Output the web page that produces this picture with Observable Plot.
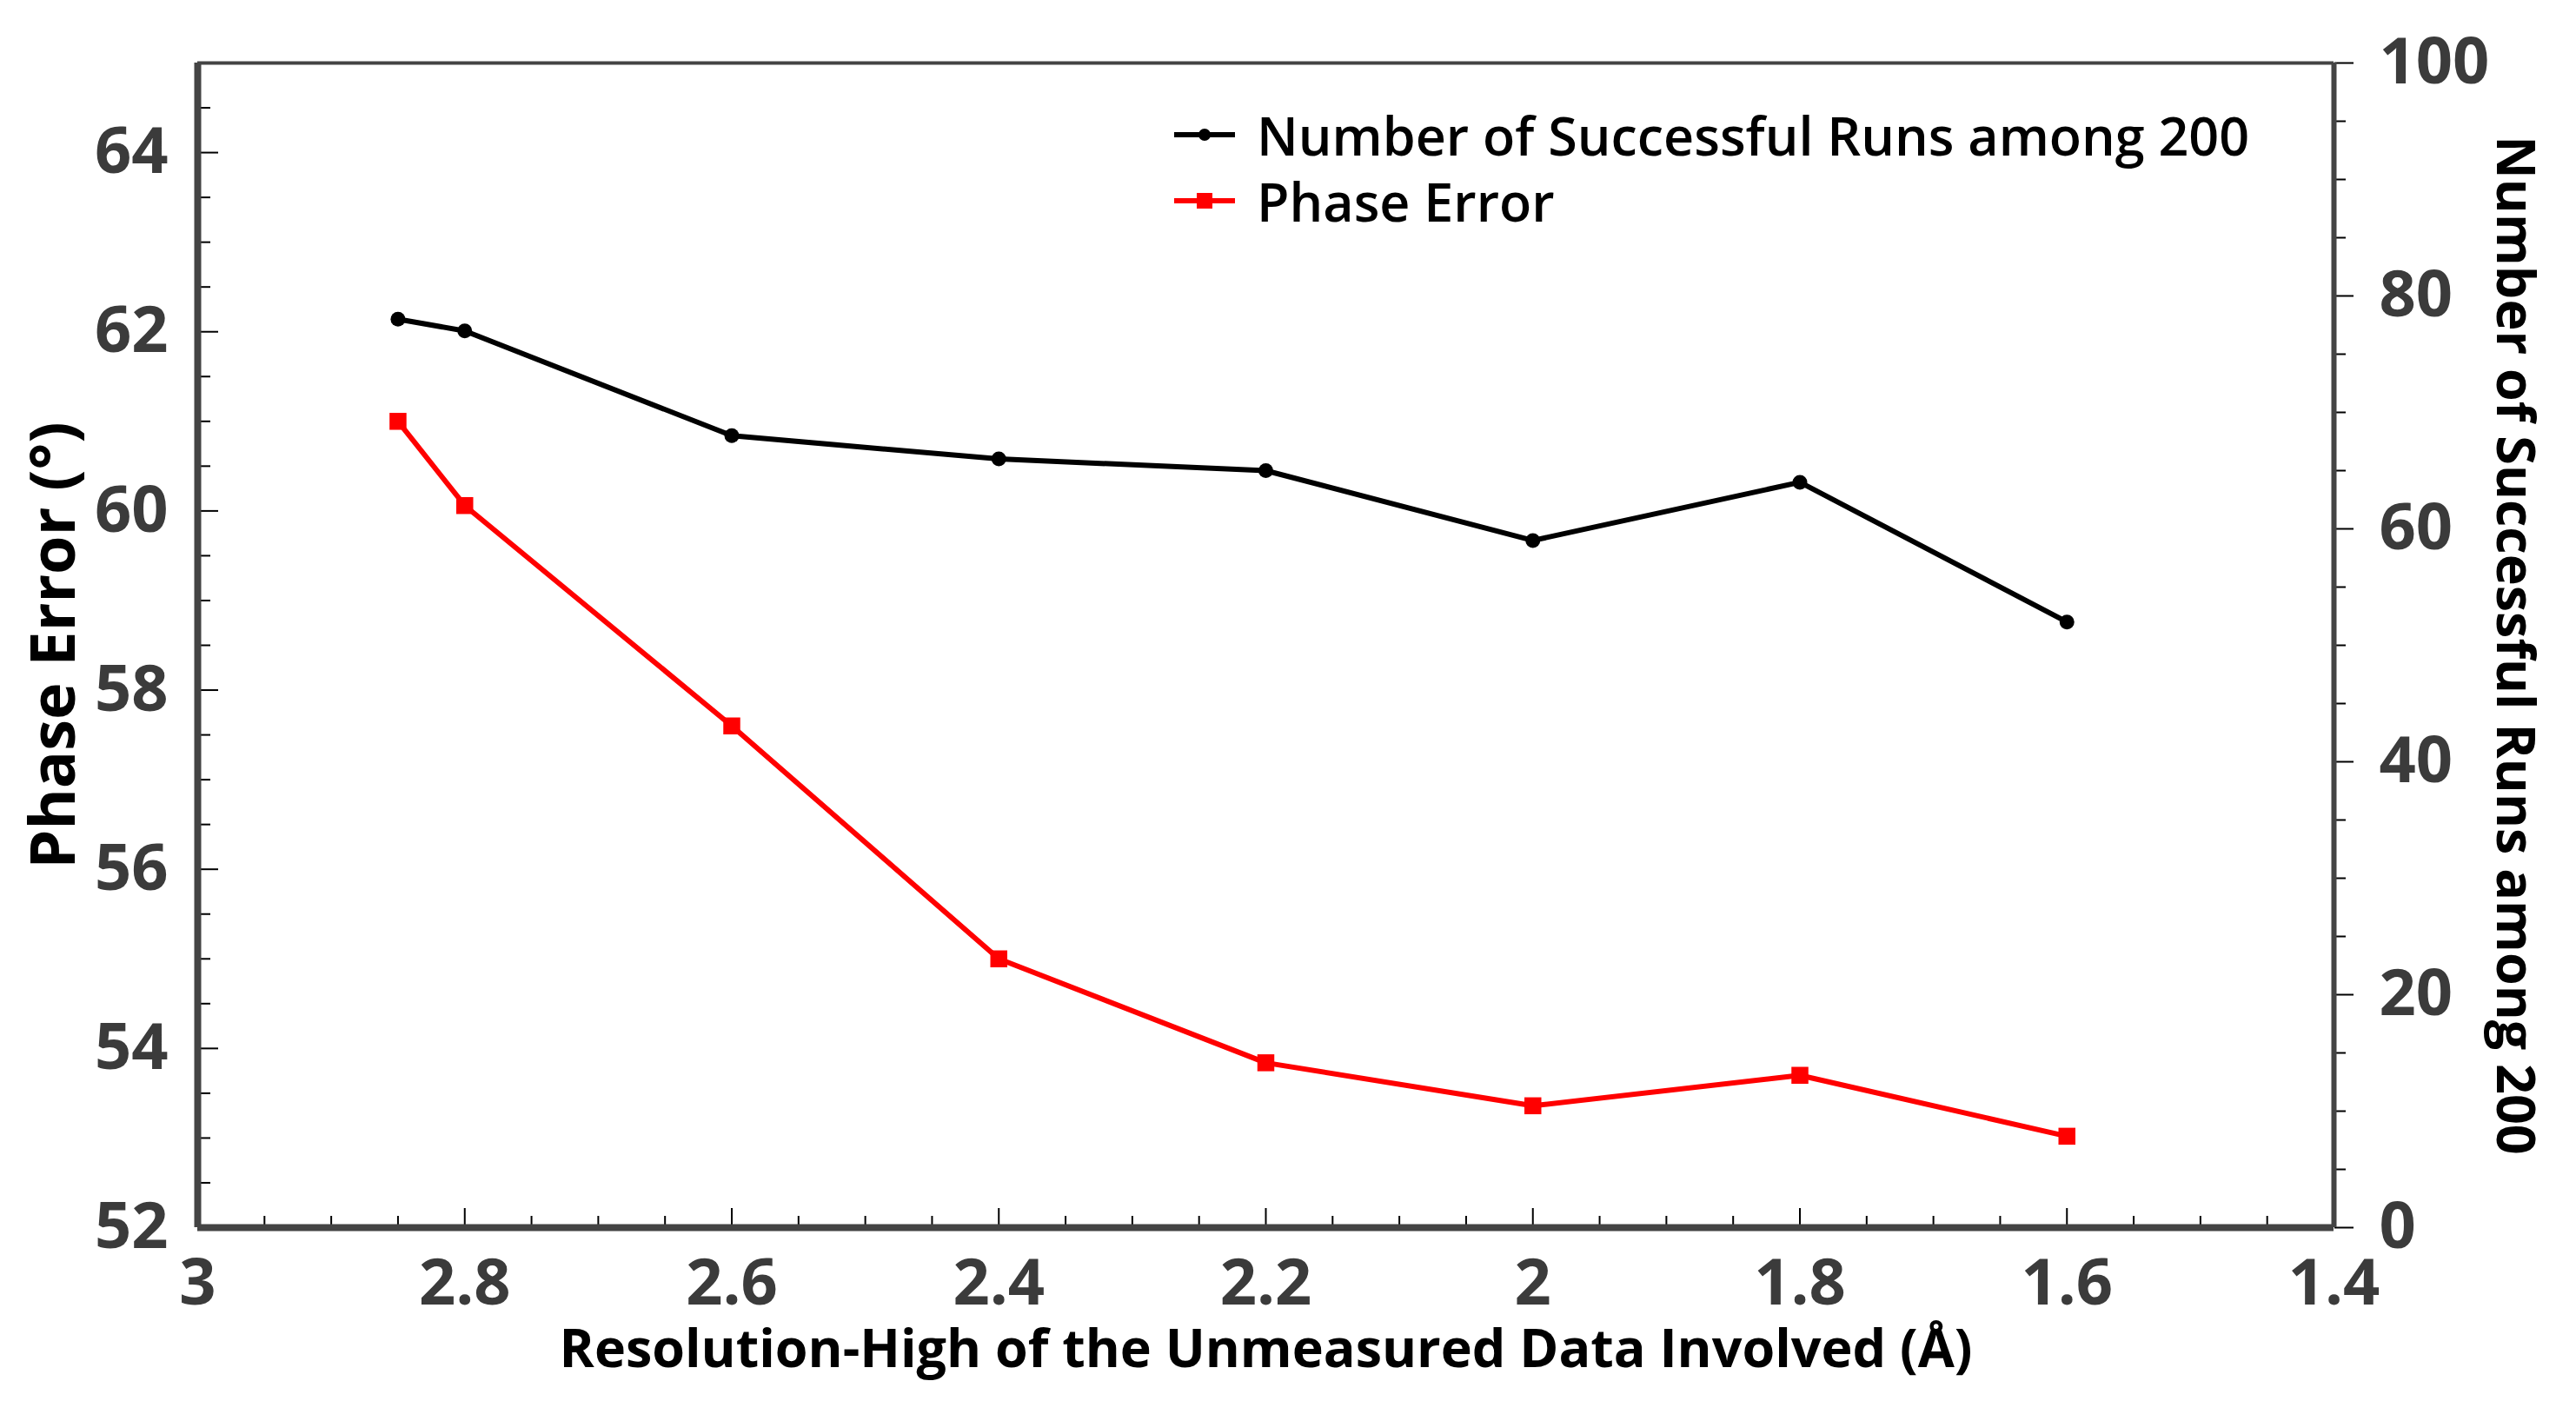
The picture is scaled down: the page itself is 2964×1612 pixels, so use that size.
<!DOCTYPE html>
<html>
<head>
<meta charset="utf-8">
<script src="https://cdn.jsdelivr.net/npm/d3@7"></script>
<script src="https://cdn.jsdelivr.net/npm/@observablehq/plot@0.6"></script>
<style>
  html, body { margin: 0; padding: 0; background: #fff; }
  #wrap { position: relative; width: 2964px; height: 1612px; overflow: hidden; }
  #legend { position: absolute; left: 1351px; top: 117px; font-family: "Open Sans", sans-serif; font-weight: 600; font-size: 61px; color: #000; }
  #legend .row { display: flex; align-items: center; height: 76px; white-space: nowrap; }
  #legend svg { margin-right: 25px; }
</style>
</head>
<body>
<div id="wrap"><div id="chart"></div><div id="legend"></div></div>
<script>
// ---- data ----
const resolution = [2.85, 2.8, 2.6, 2.4, 2.2, 2.0, 1.8, 1.6];
const successfulRuns = [78, 77, 68, 66, 65, 59, 64, 52];
const phaseError = [61.0, 60.06, 57.6, 55.0, 53.84, 53.36, 53.7, 53.02];

const xTicks = [3, 2.8, 2.6, 2.4, 2.2, 2, 1.8, 1.6, 1.4];
const leftTicks = [52, 54, 56, 58, 60, 62, 64];
const rightTicks = [0, 20, 40, 60, 80, 100];

const seriesNames = ["Number of Successful Runs among 200", "Phase Error"];
const seriesColors = ["#000000", "#ff0000"];
const xTitle = "Resolution-High of the Unmeasured Data Involved (Å)";
const leftTitle = "Phase Error (°)";
const rightTitle = "Number of Successful Runs among 200";

// ---- scales ----
const leftDomain = [52, 65];
const rightDomain = [0, 100];
const toLeft = v => leftDomain[0] + (v - rightDomain[0]) * (leftDomain[1] - leftDomain[0]) / (rightDomain[1] - rightDomain[0]);
const fromLeft = v => rightDomain[0] + (v - leftDomain[0]) * (rightDomain[1] - rightDomain[0]) / (leftDomain[1] - leftDomain[0]);

const xMinor = d3.range(0, 33).map(i => +(3 - i * 0.05).toFixed(2)).filter(v => !xTicks.some(t => Math.abs(t - v) < 1e-9));
const leftMinor = d3.range(0, 27).map(i => 52 + i * 0.5).filter(v => !leftTicks.includes(v) && v < 65);
const rightMinor = d3.range(0, 21).map(i => i * 5).filter(v => !rightTicks.includes(v));

const rows = resolution.map((r, i) => ({ r, runs: successfulRuns[i], phase: phaseError[i] }));

const tickFont = { fontSize: 74, fontWeight: 700, fill: "#3b3b3b", stroke: "#000", strokeWidth: 2 };

const chart = Plot.plot({
  width: 2964,
  height: 1612,
  marginLeft: 227,
  marginRight: 279,
  marginTop: 72,
  marginBottom: 200,
  style: { fontFamily: "'Open Sans', sans-serif", background: "#fff", color: "#000", overflow: "visible" },
  x: { domain: [3, 1.4], label: null },
  y: { domain: leftDomain, label: null },
  marks: [
    // minor ticks
    Plot.axisX(xMinor, { anchor: "bottom", tickSize: -13, tickFormat: () => "", label: null, stroke: "#000", strokeWidth: 2 }),
    Plot.axisY(leftMinor, { anchor: "left", tickSize: -15, tickFormat: () => "", label: null, stroke: "#000", strokeWidth: 2 }),
    Plot.axisY(rightMinor.map(toLeft), { anchor: "right", tickSize: 13, tickFormat: () => "", label: null, stroke: "#000", strokeWidth: 2 }),
    // major ticks + labels
    Plot.axisX(xTicks, { anchor: "bottom", tickSize: -22, tickPadding: 58, label: null, tickFormat: d => String(d), ...tickFont }),
    Plot.axisY(leftTicks, { anchor: "left", tickSize: -24, tickPadding: 58, label: null, tickFormat: d => String(d), ...tickFont }),
    Plot.axisY(rightTicks.map(toLeft), { anchor: "right", tickSize: 22, tickPadding: 30, label: null, tickFormat: d => String(Math.round(fromLeft(d))), ...tickFont }),
    // frame / axis lines
    Plot.ruleY([leftDomain[1]], { stroke: "#444", strokeWidth: 4 }),
    Plot.ruleX([1.4], { stroke: "#444", strokeWidth: 6 }),
    Plot.ruleX([3], { stroke: "#444", strokeWidth: 8 }),
    Plot.ruleY([leftDomain[0]], { stroke: "#444", strokeWidth: 8 }),
    // series
    Plot.line(rows, { x: "r", y: d => toLeft(d.runs), stroke: seriesColors[0], strokeWidth: 6 }),
    Plot.dot(rows, { x: "r", y: d => toLeft(d.runs), r: 8.5, fill: seriesColors[0], stroke: null }),
    Plot.line(rows, { x: "r", y: "phase", stroke: seriesColors[1], strokeWidth: 6 }),
    Plot.dot(rows, { x: "r", y: "phase", symbol: "square", r: 11, fill: seriesColors[1], stroke: null }),
    // titles
    Plot.text([xTitle], { text: d => d, frameAnchor: "bottom", dy: 141, lineAnchor: "middle", textAnchor: "middle", fontSize: 61, fontWeight: 700, fill: "#000" }),
    Plot.text([leftTitle], { text: d => d, frameAnchor: "left", dx: -165, rotate: -90, lineAnchor: "middle", textAnchor: "middle", fontSize: 72, fontWeight: 700, fill: "#000" }),
    Plot.text([rightTitle], { text: d => d, frameAnchor: "right", dx: 207, rotate: 90, lineAnchor: "middle", textAnchor: "middle", fontSize: 61, fontWeight: 700, fill: "#000" })
  ]
});
document.getElementById("chart").appendChild(chart);

// legend
const legend = document.getElementById("legend");
seriesNames.forEach((name, i) => {
  const row = document.createElement("div");
  row.className = "row";
  const marker = i === 0
    ? `<circle cx="35" cy="10" r="7" fill="${seriesColors[i]}"/>`
    : `<rect x="26" y="1" width="18" height="18" fill="${seriesColors[i]}"/>`;
  row.innerHTML = `<svg width="70" height="20"><line x1="0" x2="70" y1="10" y2="10" stroke="${seriesColors[i]}" stroke-width="6"/>${marker}</svg><span>${name}</span>`;
  legend.appendChild(row);
});
</script>
</body>
</html>
